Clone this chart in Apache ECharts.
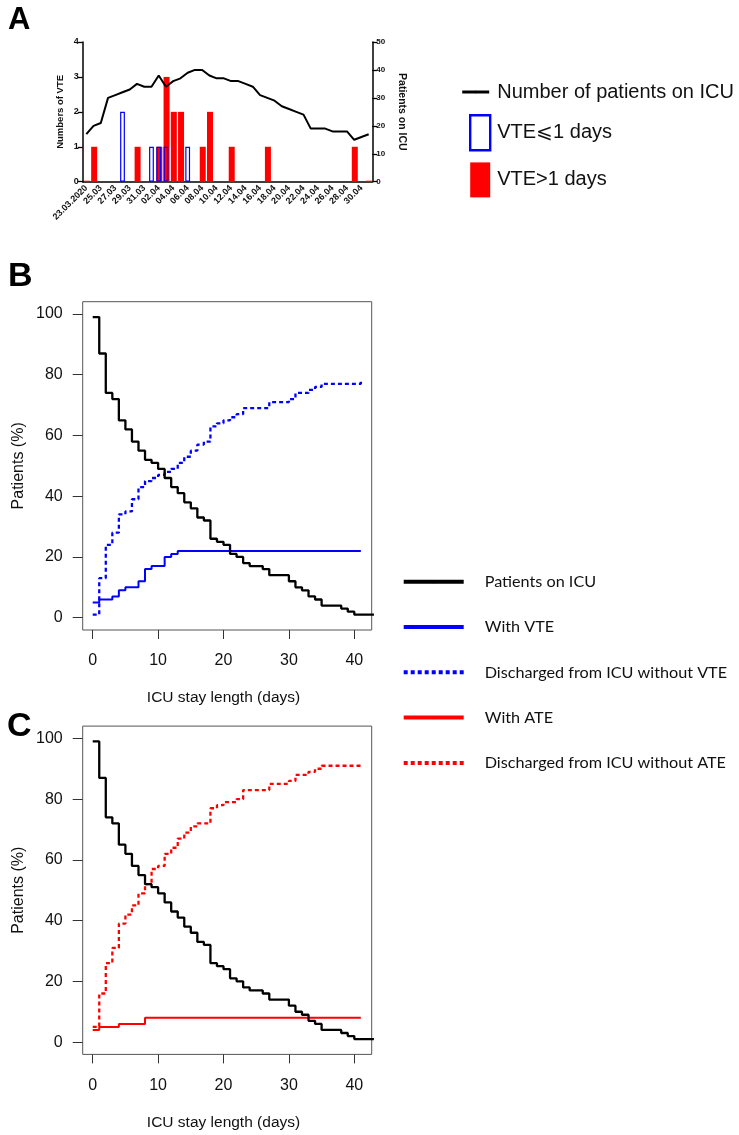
<!DOCTYPE html>
<html><head><meta charset="utf-8">
<script src="https://cdn.jsdelivr.net/npm/echarts@6/dist/echarts.min.js"></script>
<style>html,body{margin:0;padding:0;background:#fff}#c{width:739px;height:1135px}</style>
</head><body><div id="c"></div>
<script>
// ---------- Panel A data ----------
const dateLabels = ['23.03.2020','24.03','25.03','26.03','27.03','28.03','29.03','30.03','31.03',
  '01.04','02.04','03.04','04.04','05.04','06.04','07.04','08.04','09.04','10.04','11.04','12.04',
  '13.04','14.04','15.04','16.04','17.04','18.04','19.04','20.04','21.04','22.04','23.04','24.04',
  '25.04','26.04','27.04','28.04','29.04','30.04','01.05'];
const icuPatients = [17,20,21,30,31,32,33,35,34,34,38,34,36,37,39,40,40,38,37,37,
  36,36,35,34,31,30,29,27,26,25,24,19,19,19,18,18,18,15,16,17];
const vteLe1Dates = ['28.03','01.04','02.04','03.04','06.04'];
const vteLe1Counts = [2,1,1,1,1];
const vteGt1Dates = ['23.03.2020','24.03','30.03','02.04','03.04','04.04','05.04','08.04','09.04','12.04','17.04','29.04','01.05'];
const vteGt1Counts = [0,1,1,1,3,2,2,1,2,1,1,1,0];

// ---------- Panels B & C data (Kaplan-Meier style steps) ----------
const icuDays = [0,1,2,3,4,5,6,7,8,9,10,11,12,13,14,15,16,17,18,19,20,21,22,23,24,26,27,30,31,32,33,34,35,38,39,40,43];
const icuPct  = [99,87,74,72,65,62,58,55,52,51,49,46,43,41,38,36,33,32,26,25,24,21,20,18,17,16,14,12,10,9,7,6,4,3,2,1,1];
const vteDays = [0,1,3,4,5,7,8,9,11,12,13,41];
const vtePct  = [5,6,7,9,10,12,16,17,20,21,22,22];
const dischVteDays = [0,1,2,3,4,5,6,7,8,9,10,11,12,13,14,15,16,17,18,19,20,21,22,23,27,30,31,33,34,35,41];
const dischVtePct  = [1,13,24,28,34,35,39,43,45,46,47,48,49,51,53,55,57,58,63,64,65,66,67,69,71,72,74,75,76,77,78];
const ateDays = [0,1,4,8,41];
const atePct  = [4,5,6,8,8];
const dischAteDays = [0,1,2,3,4,5,6,7,8,9,10,11,12,13,14,15,16,18,19,20,22,23,27,30,31,33,34,35,41];
const dischAtePct  = [5,16,26,31,39,42,45,49,52,57,58,62,64,67,69,71,72,77,78,79,80,83,85,86,88,89,90,91,91];

const xTicksBC = [0, 40, 10];   // min, max, interval
const yTicksBC = [0, 100, 20];
const yTicksVTE = [0, 4, 1];
const yTicksICU = [0, 50, 10];

// ---------- build ----------
function toSeries(cats, dates, counts) {
  const arr = cats.map(() => '-');
  dates.forEach((d, i) => { arr[cats.indexOf(d)] = counts[i]; });
  return arr;
}
function pairs(xs, ys) { return xs.map((x, i) => [x, ys[i]]); }

const FA = 'Liberation Sans, Arial, sans-serif';
const FL = 'Lato, Open Sans, sans-serif';
const black = '#000';
const dotted = [4, 3];
const bcAxisLabel = { fontFamily: FA, fontSize: 16, color: '#111' };
const BOX_L = 82.7, BOX_W = 289, BOX_H = 328.3;
const topB = 301.7, topC = 726.1;

function panelGrids(top) {
  return [
    { left: BOX_L, width: BOX_W, top: top, height: BOX_H, show: true, borderColor: '#555', borderWidth: 1, backgroundColor: 'transparent' },
    { left: 92.7, width: 261.6, top: top, height: BOX_H, show: false },       // x ticks (0..40)
    { left: BOX_L, width: BOX_W, top: top + 12.3, height: 303.7, show: false } // y ticks (0..100)
  ];
}
function panelX(g) {
  return [
    { gridIndex: g, type: 'value', min: -1.53, max: 42.66, show: false },
    { gridIndex: g + 1, type: 'value', min: xTicksBC[0], max: xTicksBC[1], interval: xTicksBC[2],
      axisLine: { show: false }, splitLine: { show: false },
      axisTick: { show: true, length: 9, lineStyle: { color: '#333', width: 1 } },
      axisLabel: Object.assign({ margin: 23 }, bcAxisLabel),
      name: 'ICU stay length (days)', nameLocation: 'middle', nameGap: 60,
      nameTextStyle: { fontFamily: FA, fontSize: 15.5, color: '#111' } },
    { gridIndex: g + 2, type: 'value', min: 0, max: 1, show: false }
  ];
}
function panelY(g) {
  return [
    { gridIndex: g, type: 'value', min: -4.05, max: 104.05, show: false },
    { gridIndex: g + 1, type: 'value', min: 0, max: 1, show: false },
    { gridIndex: g + 2, type: 'value', min: yTicksBC[0], max: yTicksBC[1], interval: yTicksBC[2],
      axisLine: { show: false }, splitLine: { show: false },
      axisTick: { show: true, length: 10, lineStyle: { color: '#333', width: 1 } },
      axisLabel: Object.assign({ margin: 20 }, bcAxisLabel),
      name: 'Patients (%)', nameLocation: 'middle', nameGap: 56,
      nameTextStyle: { fontFamily: FA, fontSize: 16, color: '#111' } }
  ];
}

const option = {
  animation: false,
  backgroundColor: '#fff',
  title: [
    { text: 'A', left: 3, top: 0, textStyle: { fontFamily: FA, fontWeight: 'bold', fontSize: 31, color: '#000' } },
    { text: 'B', left: 3, top: 255, textStyle: { fontFamily: FA, fontWeight: 'bold', fontSize: 34, color: '#000' } },
    { text: 'C', left: 2, top: 705, textStyle: { fontFamily: FA, fontWeight: 'bold', fontSize: 34, color: '#000' } }
  ],
  legend: [
    { data: ['Number of patients on ICU'], left: 460.7, top: 80, padding: 0, itemWidth: 27, itemHeight: 3,
      selectedMode: false, lineStyle: { width: 3 },
      textStyle: { fontFamily: FA, fontSize: 20, color: '#111', lineHeight: 24, padding: [0, 0, 0, 3] } },
    { data: [
        { name: 'VTE⩽1 days', icon: 'rect', itemStyle: { color: '#fff', borderColor: '#0000ff', borderWidth: 2.4 } },
        { name: 'VTE>1 days', icon: 'rect', itemStyle: { color: '#ff0000', borderWidth: 0 } }
      ], left: 469, top: 114, padding: 0, orient: 'vertical', itemWidth: 20, itemHeight: 35, itemGap: 11,
      selectedMode: false,
      textStyle: { fontFamily: FA, fontSize: 20, color: '#111', padding: [0, 0, 0, 2] } },
    { data: ['Patients on ICU', 'With VTE', 'Discharged from ICU without VTE', 'With ATE', 'Discharged from ICU without ATE'],
      left: 401.7, top: 571.7, padding: 0, orient: 'vertical', itemWidth: 60, itemHeight: 4, itemGap: 25.3,
      selectedMode: false, lineStyle: { width: 4 },
      textStyle: { fontFamily: FL, fontSize: 16.2, color: '#111', lineHeight: 20, padding: [0, 0, 0, 16] } }
  ],
  grid: [
    { left: 82.7, right: 366.7, top: 42, bottom: 953.3 },
    ...panelGrids(topB),
    ...panelGrids(topC)
  ],
  xAxis: [
    { gridIndex: 0, type: 'category', data: dateLabels, boundaryGap: true,
      axisLine: { lineStyle: { color: black, width: 1.5 } },
      axisTick: { alignWithLabel: true, interval: 1, length: 5, lineStyle: { color: black, width: 1.3 } },
      axisLabel: { interval: 1, rotate: 45, margin: 5, fontFamily: FA, fontWeight: 'bold', fontSize: 9, color: '#111' } },
    ...panelX(1),
    ...panelX(4)
  ],
  yAxis: [
    { gridIndex: 0, type: 'value', min: yTicksVTE[0], max: yTicksVTE[1], interval: yTicksVTE[2], splitLine: { show: false },
      axisLine: { show: true, lineStyle: { color: black, width: 1.5 } },
      axisTick: { show: true, length: 5, lineStyle: { color: black, width: 1.3 } },
      axisLabel: { margin: 4, fontFamily: FA, fontWeight: 'bold', fontSize: 9, color: '#111' },
      name: 'Numbers of VTE', nameLocation: 'middle', nameGap: 17,
      nameTextStyle: { fontFamily: FA, fontWeight: 'bold', fontSize: 9.5, color: '#111' } },
    { gridIndex: 0, type: 'value', position: 'right', min: yTicksICU[0], max: yTicksICU[1], interval: yTicksICU[2], splitLine: { show: false },
      axisLine: { show: true, lineStyle: { color: black, width: 1.5 } },
      axisTick: { show: true, length: 5, lineStyle: { color: black, width: 1.3 } },
      axisLabel: { margin: 4, fontFamily: FA, fontWeight: 'bold', fontSize: 8, color: '#111' },
      name: 'Patients on ICU', nameLocation: 'middle', nameGap: 24, nameRotate: -90,
      nameTextStyle: { fontFamily: FA, fontWeight: 'bold', fontSize: 10.5, color: '#111' } },
    ...panelY(1),
    ...panelY(4)
  ],
  series: [
    { name: 'VTE>1 days', type: 'bar', xAxisIndex: 0, yAxisIndex: 0, data: toSeries(dateLabels, vteGt1Dates, vteGt1Counts),
      barWidth: 6, barGap: '-100%', barMinHeight: 1, itemStyle: { color: '#ff0000' } },
    { name: 'VTE⩽1 days', type: 'bar', xAxisIndex: 0, yAxisIndex: 0, data: toSeries(dateLabels, vteLe1Dates, vteLe1Counts),
      barWidth: 4.8, barGap: '-100%', itemStyle: { color: 'rgba(0,0,0,0)', borderColor: '#0000ff', borderWidth: 1.2 } },
    { name: 'Number of patients on ICU', type: 'line', xAxisIndex: 0, yAxisIndex: 1, data: icuPatients, symbol: 'none', z: 5,
      lineStyle: { color: black, width: 2 }, itemStyle: { color: black } },

    { name: 'Patients on ICU', type: 'line', step: 'end', xAxisIndex: 1, yAxisIndex: 2, data: pairs(icuDays, icuPct), symbol: 'none',
      lineStyle: { color: black, width: 2.3 }, itemStyle: { color: black }, z: 4 },
    { name: 'With VTE', type: 'line', step: 'end', xAxisIndex: 1, yAxisIndex: 2, data: pairs(vteDays, vtePct), symbol: 'none',
      lineStyle: { color: '#0000ff', width: 2 }, itemStyle: { color: '#0000ff' } },
    { name: 'Discharged from ICU without VTE', type: 'line', step: 'end', xAxisIndex: 1, yAxisIndex: 2, data: pairs(dischVteDays, dischVtePct), symbol: 'none',
      lineStyle: { color: '#0000ff', width: 2.3, type: dotted }, itemStyle: { color: '#0000ff' } },

    { name: 'Patients on ICU', type: 'line', step: 'end', xAxisIndex: 4, yAxisIndex: 5, data: pairs(icuDays, icuPct), symbol: 'none',
      lineStyle: { color: black, width: 2.3 }, itemStyle: { color: black }, z: 4 },
    { name: 'With ATE', type: 'line', step: 'end', xAxisIndex: 4, yAxisIndex: 5, data: pairs(ateDays, atePct), symbol: 'none',
      lineStyle: { color: '#ff0000', width: 2 }, itemStyle: { color: '#ff0000' } },
    { name: 'Discharged from ICU without ATE', type: 'line', step: 'end', xAxisIndex: 4, yAxisIndex: 5, data: pairs(dischAteDays, dischAtePct), symbol: 'none',
      lineStyle: { color: '#ff0000', width: 2.3, type: dotted }, itemStyle: { color: '#ff0000' } }
  ]
};
const chart = echarts.init(document.getElementById('c'), null, { renderer: 'canvas' });
chart.setOption(option);
</script></body></html>
